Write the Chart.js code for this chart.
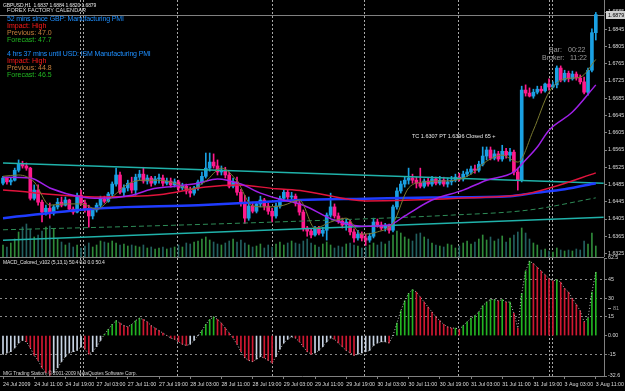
<!DOCTYPE html>
<html>
<head>
<meta charset="utf-8">
<script src="https://cdn.jsdelivr.net/npm/chart.js@4.4.1/dist/chart.umd.min.js"></script>
<style>
  html, body { margin: 0; padding: 0; background: #000; width: 625px; height: 391px; overflow: hidden; }
  #wrap { position: relative; width: 625px; height: 391px; background: #000; }
  canvas { position: absolute; left: 0; }
  #price { top: 0; }
  #macd { top: 250px; }
  .t { position: absolute; white-space: pre; line-height: 1; font-family: 'Liberation Sans', Arial, sans-serif; }
  .s { font-size: 5px; letter-spacing: -0.1px; }
</style>
</head>
<body>
<div id="wrap">
  <canvas id="price" width="625" height="257"></canvas>
  <canvas id="macd" width="625" height="141"></canvas>

  <div class="t s" style="left:3px;top:2.5px;color:#e6e6e6">GBPUSD,H1  1.6837 1.6884 1.6820 1.6879</div>
  <div class="t" style="left:7px;top:8px;font-size:5.6px;color:#dedede">FOREX FACTORY CALENDAR</div>
  <div class="t" style="left:7px;top:14.5px;font-size:7px;letter-spacing:-0.15px;color:#1e8fff">52 mins since GBP: Manufacturing PMI</div>
  <div class="t" style="left:7px;top:21.5px;font-size:7px;color:#ff1a1a">Impact: High</div>
  <div class="t" style="left:7px;top:28.5px;font-size:7px;color:#c8803c">Previous: 47.0</div>
  <div class="t" style="left:7px;top:35.5px;font-size:7px;color:#22b822">Forecast: 47.7</div>
  <div class="t" style="left:7px;top:49.5px;font-size:7px;letter-spacing:-0.15px;color:#1e8fff">4 hrs 37 mins until USD: ISM Manufacturing PMI</div>
  <div class="t" style="left:7px;top:56.5px;font-size:7px;color:#ff1a1a">Impact: High</div>
  <div class="t" style="left:7px;top:63.5px;font-size:7px;color:#c8803c">Previous: 44.8</div>
  <div class="t" style="left:7px;top:70.5px;font-size:7px;color:#22b822">Forecast: 46.5</div>

  <div class="t" style="left:549px;top:45.5px;font-size:7px;color:#9a9a9a">Bar:</div>
  <div class="t" style="left:568px;top:45.5px;font-size:7px;color:#9a9a9a">00:22</div>
  <div class="t" style="left:542px;top:53.5px;font-size:7px;color:#9a9a9a">Broker:</div>
  <div class="t" style="left:570px;top:53.5px;font-size:7px;color:#9a9a9a">11:22</div>

  <div class="t" style="left:412px;top:133.5px;font-size:5.5px;color:#e8e8e8">TC 1.6307 PT 1.6396 Closed 65 +</div>

  <div class="t s" style="left:3px;top:259.5px;color:#e0e0e0">MACD_Colored_v102 (5,13,1) 50.4 0.0 0.0 50.4</div>
  <div class="t s" style="left:3px;top:370.5px;color:#d0d0d0">MIG Trading Station, © 2001-2009 MetaQuotes Software Corp.</div>
  <div style="position:absolute;left:608px;top:308px;width:3px;height:1px;background:#9a9a9a"></div>
  <div class="t" style="left:613px;top:305.5px;font-size:5.5px;color:#9a9a9a">81</div>
</div>

<script>
// ---- data (GBPUSD H1, 24 Jul - 3 Aug 2009) ----
const tickBars = [0, 8, 16, 24, 32, 40, 48, 56, 64, 72, 80, 88, 96, 104, 112, 120, 128, 136, 144, 152];
const tickLabels = [
  "24 Jul 2009", "24 Jul 11:00", "24 Jul 19:00", "27 Jul 03:00", "27 Jul 11:00",
  "27 Jul 19:00", "28 Jul 03:00", "28 Jul 11:00", "28 Jul 19:00", "29 Jul 03:00",
  "29 Jul 11:00", "29 Jul 19:00", "30 Jul 03:00", "30 Jul 11:00", "30 Jul 19:00",
  "31 Jul 03:00", "31 Jul 11:00", "31 Jul 19:00", "3 Aug 03:00", "3 Aug 11:00"
];
const daySeparators = [19.75, 20.5, 44.6, 69, 92.6, 116.7, 140, 140.8];

const opens = [
  1.6488, 1.6500, 1.6491, 1.6495, 1.6518, 1.6532, 1.6528, 1.6523, 1.6453, 1.6472,
  1.6444, 1.6421, 1.6430, 1.6419, 1.6433, 1.6444, 1.6437, 1.6449, 1.6428, 1.6421,
  1.6460, 1.6442, 1.6430, 1.6412, 1.6426, 1.6437, 1.6451, 1.6446, 1.6463, 1.6486,
  1.6507, 1.6467, 1.6477, 1.6488, 1.6472, 1.6502, 1.6509, 1.6493, 1.6500, 1.6488,
  1.6498, 1.6500, 1.6488, 1.6493, 1.6484, 1.6491, 1.6477, 1.6481, 1.6470, 1.6465,
  1.6477, 1.6491, 1.6504, 1.6523, 1.6537, 1.6528, 1.6514, 1.6518, 1.6507, 1.6481,
  1.6491, 1.6467, 1.6444, 1.6407, 1.6435, 1.6423, 1.6440, 1.6449, 1.6435, 1.6423,
  1.6412, 1.6435, 1.6453, 1.6467, 1.6456, 1.6458, 1.6442, 1.6421, 1.6384, 1.6377,
  1.6368, 1.6382, 1.6372, 1.6379, 1.6414, 1.6433, 1.6412, 1.6400, 1.6391, 1.6398,
  1.6375, 1.6361, 1.6370, 1.6361, 1.6356, 1.6365, 1.6398, 1.6391, 1.6384, 1.6388,
  1.6379, 1.6433, 1.6470, 1.6486, 1.6495, 1.6500, 1.6495, 1.6488, 1.6481, 1.6493,
  1.6486, 1.6498, 1.6488, 1.6495, 1.6486, 1.6491, 1.6495, 1.6502, 1.6498, 1.6509,
  1.6514, 1.6521, 1.6518, 1.6532, 1.6551, 1.6565, 1.6546, 1.6556, 1.6544, 1.6562,
  1.6553, 1.6560, 1.6514, 1.6495, 1.6704, 1.6697, 1.6690, 1.6699, 1.6706, 1.6702,
  1.6718, 1.6711, 1.6716, 1.6755, 1.6727, 1.6743, 1.6730, 1.6741, 1.6732, 1.6723,
  1.6699, 1.6750, 1.6837
];
const highs = [
  1.6504, 1.6502, 1.6500, 1.6523, 1.6542, 1.6539, 1.6535, 1.6525, 1.6484, 1.6484,
  1.6449, 1.6437, 1.6442, 1.6437, 1.6453, 1.6456, 1.6456, 1.6451, 1.6433, 1.6465,
  1.6472, 1.6449, 1.6437, 1.6430, 1.6442, 1.6458, 1.6458, 1.6467, 1.6491, 1.6523,
  1.6514, 1.6484, 1.6495, 1.6502, 1.6509, 1.6518, 1.6525, 1.6507, 1.6504, 1.6504,
  1.6509, 1.6507, 1.6500, 1.6500, 1.6498, 1.6495, 1.6488, 1.6486, 1.6479, 1.6481,
  1.6495, 1.6514, 1.6558, 1.6558, 1.6556, 1.6542, 1.6528, 1.6525, 1.6514, 1.6500,
  1.6502, 1.6474, 1.6460, 1.6456, 1.6444, 1.6444, 1.6458, 1.6453, 1.6442, 1.6430,
  1.6442, 1.6458, 1.6472, 1.6472, 1.6467, 1.6463, 1.6449, 1.6426, 1.6388, 1.6382,
  1.6388, 1.6388, 1.6386, 1.6419, 1.6465, 1.6440, 1.6419, 1.6407, 1.6405, 1.6402,
  1.6382, 1.6379, 1.6375, 1.6370, 1.6372, 1.6407, 1.6405, 1.6398, 1.6395, 1.6393,
  1.6437, 1.6477, 1.6493, 1.6504, 1.6523, 1.6509, 1.6502, 1.6523, 1.6498, 1.6500,
  1.6504, 1.6502, 1.6504, 1.6502, 1.6500, 1.6504, 1.6509, 1.6511, 1.6516, 1.6521,
  1.6528, 1.6530, 1.6539, 1.6572, 1.6572, 1.6572, 1.6565, 1.6562, 1.6576, 1.6569,
  1.6569, 1.6565, 1.6523, 1.6713, 1.6716, 1.6709, 1.6706, 1.6713, 1.6713, 1.6720,
  1.6730, 1.6723, 1.6760, 1.6760, 1.6750, 1.6748, 1.6748, 1.6746, 1.6739, 1.6734,
  1.6755, 1.6846, 1.6884
];
const lows = [
  1.6484, 1.6486, 1.6484, 1.6493, 1.6514, 1.6523, 1.6518, 1.6449, 1.6449, 1.6437,
  1.6398, 1.6414, 1.6407, 1.6414, 1.6428, 1.6433, 1.6435, 1.6423, 1.6416, 1.6419,
  1.6437, 1.6421, 1.6386, 1.6405, 1.6421, 1.6433, 1.6442, 1.6444, 1.6456, 1.6481,
  1.6463, 1.6458, 1.6470, 1.6465, 1.6460, 1.6495, 1.6488, 1.6486, 1.6481, 1.6484,
  1.6488, 1.6481, 1.6484, 1.6479, 1.6479, 1.6470, 1.6472, 1.6463, 1.6456, 1.6460,
  1.6472, 1.6486, 1.6500, 1.6516, 1.6523, 1.6507, 1.6507, 1.6500, 1.6477, 1.6477,
  1.6460, 1.6435, 1.6395, 1.6402, 1.6419, 1.6419, 1.6433, 1.6426, 1.6416, 1.6398,
  1.6407, 1.6430, 1.6446, 1.6449, 1.6449, 1.6435, 1.6414, 1.6377, 1.6365, 1.6361,
  1.6365, 1.6368, 1.6365, 1.6356, 1.6409, 1.6407, 1.6395, 1.6384, 1.6379, 1.6368,
  1.6351, 1.6356, 1.6354, 1.6344, 1.6351, 1.6361, 1.6386, 1.6379, 1.6377, 1.6372,
  1.6375, 1.6428, 1.6465, 1.6479, 1.6486, 1.6488, 1.6477, 1.6477, 1.6477, 1.6481,
  1.6481, 1.6484, 1.6484, 1.6481, 1.6479, 1.6484, 1.6491, 1.6493, 1.6493, 1.6504,
  1.6509, 1.6511, 1.6514, 1.6528, 1.6542, 1.6542, 1.6542, 1.6539, 1.6539, 1.6546,
  1.6539, 1.6507, 1.6472, 1.6491, 1.6690, 1.6688, 1.6685, 1.6695, 1.6697, 1.6699,
  1.6704, 1.6709, 1.6709, 1.6723, 1.6723, 1.6723, 1.6727, 1.6727, 1.6718, 1.6695,
  1.6692, 1.6746, 1.6820
];
const closes = [
  1.6500, 1.6491, 1.6495, 1.6518, 1.6532, 1.6528, 1.6523, 1.6453, 1.6472, 1.6444,
  1.6421, 1.6430, 1.6419, 1.6433, 1.6444, 1.6437, 1.6449, 1.6428, 1.6421, 1.6460,
  1.6442, 1.6430, 1.6412, 1.6426, 1.6437, 1.6451, 1.6446, 1.6463, 1.6486, 1.6507,
  1.6467, 1.6477, 1.6488, 1.6472, 1.6502, 1.6509, 1.6493, 1.6500, 1.6488, 1.6498,
  1.6500, 1.6488, 1.6493, 1.6484, 1.6491, 1.6477, 1.6481, 1.6470, 1.6465, 1.6477,
  1.6491, 1.6504, 1.6523, 1.6537, 1.6528, 1.6514, 1.6518, 1.6507, 1.6481, 1.6491,
  1.6467, 1.6444, 1.6407, 1.6435, 1.6423, 1.6440, 1.6449, 1.6435, 1.6423, 1.6412,
  1.6435, 1.6453, 1.6467, 1.6456, 1.6458, 1.6442, 1.6421, 1.6384, 1.6377, 1.6368,
  1.6382, 1.6372, 1.6379, 1.6414, 1.6433, 1.6412, 1.6400, 1.6391, 1.6398, 1.6375,
  1.6361, 1.6370, 1.6361, 1.6356, 1.6365, 1.6398, 1.6391, 1.6384, 1.6388, 1.6379,
  1.6433, 1.6470, 1.6486, 1.6495, 1.6500, 1.6495, 1.6488, 1.6481, 1.6493, 1.6486,
  1.6498, 1.6488, 1.6495, 1.6486, 1.6491, 1.6495, 1.6502, 1.6498, 1.6509, 1.6514,
  1.6521, 1.6518, 1.6532, 1.6551, 1.6565, 1.6546, 1.6556, 1.6544, 1.6562, 1.6553,
  1.6560, 1.6514, 1.6495, 1.6704, 1.6697, 1.6690, 1.6699, 1.6706, 1.6702, 1.6718,
  1.6711, 1.6716, 1.6755, 1.6727, 1.6743, 1.6730, 1.6741, 1.6732, 1.6723, 1.6699,
  1.6750, 1.6837, 1.6879
];
const volumes = [
  120, 100, 140, 180, 250, 300, 330, 280, 200, 220,
  260, 300, 310, 280, 180, 150, 120, 140, 100, 120,
  90, 110, 140, 100, 120, 160, 150, 140, 160, 140,
  120, 130, 110, 120, 110, 100, 120, 90, 100, 80,
  90, 100, 80, 90, 100, 120, 100, 140, 130, 150,
  160, 180, 200, 170, 150, 130, 120, 140, 160, 180,
  150, 170, 140, 120, 100, 110, 130, 90, 120, 100,
  130, 150, 120, 140, 160, 140, 130, 160, 180, 140,
  120, 100, 130, 150, 120, 90, 110, 100, 130, 140,
  120, 110, 90, 100, 120, 140, 120, 150, 130, 160,
  220, 260, 240, 200, 180, 160, 230, 240, 200, 180,
  140, 120, 110, 100, 130, 120, 90, 110, 140, 160,
  130, 150, 180, 220, 170, 200, 160, 180, 210, 150,
  190, 220, 250, 290, 240, 180, 140, 120, 70, 80,
  60, 50, 90, 70, 60, 70, 60, 80, 70, 160,
  130, 240, 110
];

// moving averages / lines, sampled at the bars where they could be read
const fastMaBars = [0, 4, 8, 12, 16, 20, 24, 28, 32, 36, 40, 44, 48, 52, 56, 60, 64, 68, 72, 76,
  80, 84, 88, 92, 96, 100, 104, 108, 112, 116, 120, 124, 128, 132, 136, 140, 144, 148, 152];
const fastMa = [1.6504, 1.6507, 1.6491, 1.6437, 1.6440, 1.6440, 1.6428, 1.6456, 1.6486, 1.6495,
  1.6495, 1.6488, 1.6474, 1.6493, 1.6523, 1.6493, 1.6435, 1.6433, 1.6437, 1.6449,
  1.6384, 1.6398, 1.6407, 1.6370, 1.6375, 1.6395, 1.6477, 1.6491, 1.6493, 1.6495,
  1.6509, 1.6539, 1.6553, 1.6537, 1.6611, 1.6699, 1.6730, 1.6734, 1.6775];
const purpleMaBars = [0, 7, 12, 20, 25, 33, 38, 44, 50, 55, 61, 66, 71, 77, 85, 92, 99, 103, 110,
  118, 124, 131, 134, 137, 140, 146, 152];
const purpleMa = [1.6502, 1.6500, 1.6477, 1.6456, 1.6453, 1.6460, 1.6474, 1.6481, 1.6488, 1.6498,
  1.6486, 1.6465, 1.6451, 1.6437, 1.6402, 1.6388, 1.6391, 1.6412, 1.6449, 1.6472,
  1.6495, 1.6514, 1.6542, 1.6572, 1.6611, 1.6653, 1.6716];
const redMaBars = [0, 25, 40, 52, 60, 70, 77, 93, 105, 120, 133, 141, 152];
const redMa = [1.6472, 1.6456, 1.6461, 1.6479, 1.6484, 1.6475, 1.6470, 1.6447, 1.6449, 1.6454,
  1.6461, 1.6479, 1.6512];
const blueMaBars = [0, 25, 50, 66, 76, 93, 110, 130, 136, 144, 152];
const blueMa = [1.6407, 1.6430, 1.6437, 1.6444, 1.6449, 1.6452, 1.6455, 1.6458, 1.6465, 1.6474, 1.6488];
const greenMaBars = [0, 38, 76, 115, 135, 152];
const greenMa = [1.6380, 1.6389, 1.6400, 1.6414, 1.6426, 1.6454];
const trendBars = [0, 154];
const upperTrend = [1.6535, 1.6488];
const lowerTrend = [1.6356, 1.6409];

const bidPrice = 1.6879;
const priceTicks = [1.6885, 1.6845, 1.6805, 1.6765, 1.6725, 1.6685, 1.6645, 1.6605,
  1.6565, 1.6525, 1.6485, 1.6445, 1.6405, 1.6365, 1.6325];

// MACD_Colored (5,13,1), in pips
const macd = [
  -15, -14, -13, -10, -6, -4, -5, -10, -16, -20,
  -26, -30, -32, -30, -26, -21, -17, -14, -13, -12,
  -9, -11, -15, -13, -9, -4, 1, 5, 9, 12,
  10, 8, 7, 9, 12, 14, 13, 11, 8, 6,
  4, 2, 0, -2, -3, -5, -7, -8, -7, -4,
  0, 4, 9, 13, 15, 13, 10, 6, 2, -2,
  -7, -13, -18, -20, -21, -19, -17, -18, -20, -22,
  -17, -11, -6, -3, -1, -2, -5, -9, -13, -15,
  -14, -12, -9, -5, -2, -3, -6, -9, -12, -14,
  -16, -15, -14, -13, -12, -8, -6, -5, -5, -6,
  0, 10, 20, 28, 34, 37, 35, 31, 27, 23,
  19, 15, 12, 9, 7, 6, 6, 5, 8, 11,
  14, 16, 19, 24, 27, 29, 29, 28, 29, 27,
  27, 18, 6, 34, 52, 60, 58, 55, 52, 49,
  46, 44, 45, 43, 38, 35, 30, 25, 20, 11,
  14, 35, 51
];
const signalLine = macd; // signal period 1 = MACD itself
const macdTicks = [62.5, 45, 30, 15, 0, -15, -32.6];
const macdLevels = [45, 30, 15, -15];

// ---- drawing ----
const XMIN = -0.77, XMAX = 154.1;
const UP = '#1aa0e2', DOWN = '#ff1a8c';
const GRAY = '#808080';
const AXIS_FONT = { family: "'Liberation Sans', Arial, sans-serif", size: 5.3 };

const pts = (bars, vals) => bars.map((b, k) => ({ x: b, y: vals[k] }));
const isUp = i => closes[i] >= opens[i];

const dayLines = {
  id: 'dayLines',
  beforeDatasetsDraw(chart) {
    const { ctx, chartArea: a, scales: { x } } = chart;
    ctx.save();
    ctx.strokeStyle = '#a8a8a8';
    ctx.lineWidth = 1;
    ctx.setLineDash([2, 2]);
    daySeparators.forEach(b => {
      const px = Math.round(x.getPixelForValue(b)) + 0.5;
      ctx.beginPath();
      ctx.moveTo(px, a.top);
      ctx.lineTo(px, a.bottom);
      ctx.stroke();
    });
    ctx.restore();
  }
};

const bidLine = {
  id: 'bidLine',
  beforeDatasetsDraw(chart) {
    const { ctx, chartArea: a, scales: { y } } = chart;
    const py = Math.round(y.getPixelForValue(bidPrice)) + 0.5;
    ctx.save();
    ctx.strokeStyle = GRAY;
    ctx.lineWidth = 1;
    ctx.beginPath();
    ctx.moveTo(a.left, py);
    ctx.lineTo(a.right, py);
    ctx.stroke();
    ctx.restore();
  },
  afterDraw(chart) {
    const { ctx, chartArea: a, scales: { y } } = chart;
    const py = Math.round(y.getPixelForValue(bidPrice));
    ctx.save();
    ctx.fillStyle = '#d0d0d0';
    ctx.fillRect(a.right + 2, py - 4, 19, 8);
    ctx.fillStyle = '#000';
    ctx.font = "5.3px 'Liberation Sans', Arial, sans-serif";
    ctx.textBaseline = 'middle';
    ctx.fillText(bidPrice.toFixed(4), a.right + 4, py + 0.5);
    ctx.restore();
  }
};

const panelTop = {
  id: 'panelTop',
  afterDraw(chart) {
    const { ctx, chartArea: a } = chart;
    ctx.save();
    ctx.strokeStyle = GRAY;
    ctx.lineWidth = 1;
    ctx.beginPath();
    ctx.moveTo(0, a.top - 0.5);
    ctx.lineTo(a.right, a.top - 0.5);
    ctx.stroke();
    ctx.restore();
  }
};

new Chart(document.getElementById('price'), {
  type: 'bar',
  data: {
    datasets: [
      { type: 'line', label: 'Fast MA', data: pts(fastMaBars, fastMa), borderColor: '#7a7a30', borderWidth: 1,
        pointRadius: 0, cubicInterpolationMode: 'monotone', order: 1 },
      { type: 'line', label: 'Medium MA', data: pts(purpleMaBars, purpleMa), borderColor: '#a020e8', borderWidth: 1.5,
        pointRadius: 0, cubicInterpolationMode: 'monotone', order: 2 },
      { type: 'line', label: 'Slow MA', data: pts(redMaBars, redMa), borderColor: '#e0143c', borderWidth: 1.5,
        pointRadius: 0, cubicInterpolationMode: 'monotone', order: 3 },
      { type: 'line', label: 'Long MA', data: pts(blueMaBars, blueMa), borderColor: '#1f3cff', borderWidth: 2.5,
        pointRadius: 0, cubicInterpolationMode: 'monotone', order: 4 },
      { type: 'line', label: 'Upper trend', data: pts(trendBars, upperTrend), borderColor: '#20b2aa', borderWidth: 1.5,
        pointRadius: 0, order: 5 },
      { type: 'line', label: 'Lower trend', data: pts(trendBars, lowerTrend), borderColor: '#20b2aa', borderWidth: 1.5,
        pointRadius: 0, order: 5 },
      { type: 'line', label: 'Very long MA', data: pts(greenMaBars, greenMa), borderColor: '#2e8b57', borderWidth: 1,
        borderDash: [5, 3], pointRadius: 0, cubicInterpolationMode: 'monotone', order: 6 },
      { label: 'Bodies', data: opens.map((o, i) => ({ x: i, y: [o, closes[i]] })),
        backgroundColor: ctx => isUp(ctx.dataIndex) ? UP : DOWN,
        barThickness: 3, minBarLength: 1, grouped: false, order: 8 },
      { label: 'Wicks', data: highs.map((h, i) => ({ x: i, y: [lows[i], h] })),
        backgroundColor: ctx => isUp(ctx.dataIndex) ? UP : DOWN,
        barThickness: 1, grouped: false, order: 9 },
      { label: 'Volume', yAxisID: 'vol', data: volumes.map((v, i) => ({ x: i, y: v })),
        backgroundColor: ctx => isUp(ctx.dataIndex) ? '#2f8a3a' : '#236060',
        barThickness: 1, grouped: false, order: 20 }
    ]
  },
  options: {
    responsive: false,
    animation: false,
    events: [],
    layout: { padding: 0 },
    plugins: { legend: { display: false }, tooltip: { enabled: false } },
    scales: {
      x: { type: 'linear', display: false, min: XMIN, max: XMAX, offset: false },
      y: {
        position: 'right', min: 1.631689, max: 1.691283,
        afterFit(s) { s.width = 21; s.paddingTop = 0; s.paddingBottom = 0; },
        afterBuildTicks(s) { s.ticks = priceTicks.map(v => ({ value: v })); },
        ticks: { autoSkip: false, padding: 1, color: '#dcdcdc', font: AXIS_FONT, callback: v => v.toFixed(4) },
        grid: { drawOnChartArea: false, tickLength: 3, color: GRAY },
        border: { color: GRAY }
      },
      vol: { display: false, min: 0, max: 2570 }
    }
  },
  plugins: [dayLines, bidLine]
});

new Chart(document.getElementById('macd'), {
  type: 'bar',
  data: {
    datasets: [
      { type: 'line', label: 'Signal', data: signalLine.map((v, i) => ({ x: i, y: v })), borderColor: '#bcbcbc',
        borderWidth: 1, borderDash: [1, 2], pointRadius: 0, order: 1 },
      { label: 'MACD', data: macd.map((v, i) => ({ x: i, y: v })),
        backgroundColor: ctx => {
          const i = ctx.dataIndex, v = macd[i], p = i > 0 ? macd[i - 1] : v;
          if (v < p) return '#d01832';
          return v > 0 ? '#22b422' : '#c8d4e4';
        },
        barThickness: 1, grouped: false, order: 2 }
    ]
  },
  options: {
    responsive: false,
    animation: false,
    events: [],
    layout: { padding: { top: 8 } },
    plugins: { legend: { display: false }, tooltip: { enabled: false } },
    scales: {
      x: {
        type: 'linear', min: XMIN, max: XMAX, offset: false,
        afterFit(s) { s.height = 15; s.paddingLeft = 0; s.paddingRight = 0; },
        afterBuildTicks(s) { s.ticks = tickBars.map(v => ({ value: v })); },
        ticks: { autoSkip: false, maxRotation: 0, minRotation: 0, align: 'start', padding: 2,
          color: '#dcdcdc', font: AXIS_FONT, callback: v => tickLabels[tickBars.indexOf(v)] },
        grid: { drawOnChartArea: false, tickLength: 3, color: GRAY, offset: false },
        border: { color: GRAY }
      },
      y: {
        position: 'right', min: -32.6, max: 62.5,
        afterFit(s) { s.width = 21; s.paddingTop = 0; s.paddingBottom = 0; },
        afterBuildTicks(s) { s.ticks = macdTicks.map(v => ({ value: v })); },
        ticks: { autoSkip: false, padding: 1, color: '#dcdcdc', font: AXIS_FONT,
          callback: v => v === 0 ? '0.00' : String(v) },
        grid: {
          tickLength: 3, tickColor: GRAY,
          color: ctx => ctx.tick && macdLevels.includes(ctx.tick.value) ? '#8a8a8a' : 'rgba(0,0,0,0)'
        },
        border: { color: GRAY, dash: [2, 3] }
      }
    }
  },
  plugins: [dayLines, panelTop]
});
</script>
</body>
</html>
